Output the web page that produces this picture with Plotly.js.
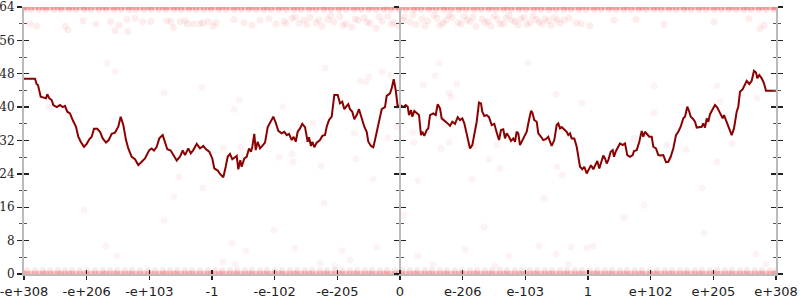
<!DOCTYPE html>
<html>
<head>
<meta charset="utf-8">
<script src="https://cdn.plot.ly/plotly-3.0.1.min.js"></script>
<style>html,body{margin:0;padding:0;background:#fff;}#chart{width:800px;height:300px;}</style>
</head>
<body>
<div id="chart"></div>
<script>
// x positions are bucket indices (0..752) across the float range; y = bits
const tickLabels = ["-e+308","-e+206","-e+103","-1","-e-102","-e-205","0","e-206","e-103","1","e+102","e+205","e+308"];
const xMax = 752;

// moving-average line
const lineX = [0,11,12.7,14,16.7,22,23.3,25.3,27.7,29.3,32.7,36,38.7,41,43.3,46,48.7,52,54.3,56.7,60,62.7,65.3,67.7,70,73.3,76,78.7,82,84.7,87.7,91,94.3,96.7,99.3,102,104.3,107.7,111,114.3,117.7,121,123.3,125.3,127.7,130,132.7,135.3,138.7,141,143.3,146.7,149.3,152.7,156,158.7,161,164.3,166.7,169.3,172.7,176,179.3,182,185.3,
188.3,190.3,193.7,196,199.3,201.7,203.7,206,208.3,211,212.7,214.3,216.3,217.7,220.3,222.7,225,227,228.3,230.3,231.7,233.7,236,238.3,241,243.7,246.3,249.3,251.7,254.3,257.7,260.3,262.7,265,267.7,269.7,271.7,273.7,276,278.3,281,283.7,285,287,288.3,290.3,292.7,296,298.3,301,302.7,305,307.7,310.3,313.7,316,318.3,320.3,322.7,324.3,326,328.3,330.3,332.7,335,337.7,340.3,342.7,344.3,347,349.3,351,353.7,356,357.7,361,362.7,366,367.7,369.7,371.7,373.7,376,
379.3,381.7,383.7,385,387,388.3,390.3,392.7,395,397,398.3,400.3,402.7,404.3,406,409.3,411.7,413.7,416,417.7,421,423.7,426,428.3,431,433.7,436,438.3,440.3,442.7,445,446,448.3,450.3,452.7,455,457,458.3,460.3,462.7,465,467.7,470.3,472.7,475,477,479.3,481,482.7,485,487,489.3,491,492.7,494.3,496,498.3,500.3,502.7,505,507,508.3,510.3,512.7,514.3,517,519.3,521.7,524.3,526,527.7,530.3,532.7,534.3,536,537.7,540.3,542.7,544.3,546,547.7,550.3,552.7,554.3,556,558.3,560.3,562.7,565,567,569.3,
571,573.3,575.3,577.7,579.3,581,582.7,584.3,586.7,588.7,590,592,594.3,596,598.7,601,603.3,606,608.7,610,612.7,615.3,617.7,619.3,621,623.3,625.3,627.7,629.3,632,634.3,636.7,639.3,642,644.3,646.7,649.3,652,654.3,656.7,659.3,661,663.3,665.3,666.7,668.7,671,672.7,675.3,677.7,679.3,681,682.7,684.3,686,688.7,691,693.3,696,698.7,700,702,703.3,705.3,707.7,710,712.7,714.3,716,718.7,721,722.7,725.3,727.7,730,732,733.3,735.3,737.7,740,742,752];
const lineY = [46.8,46.8,45.5,45.3,42.5,42.1,43.1,42.1,41.7,40.5,40.0,40.5,40.0,40.3,38.9,38.5,36.9,35.3,32.9,31.7,30.5,31.2,32.3,32.9,34.8,34.8,34.1,32.5,31.5,32.1,33.6,33.9,35.3,37.7,35.7,32.1,30.1,28.1,27.5,26.1,26.9,27.7,28.8,29.7,30.1,29.6,30.5,32.5,33.3,31.7,29.9,29.6,28.5,27.2,28.1,29.6,28.5,30.1,28.9,29.7,31.2,30.1,30.7,29.9,29.3,
27.7,25.3,24.8,24.0,23.2,25.7,28.1,28.8,27.5,28.0,28.3,25.1,27.3,25.7,27.7,28.1,30.1,29.3,30.5,33.6,29.7,31.7,30.1,30.7,31.5,35.2,36.5,37.7,36.3,34.3,33.7,34.1,33.3,33.6,32.1,32.9,31.7,34.1,34.9,36.0,35.2,31.7,32.8,30.7,31.7,30.4,31.5,32.1,33.1,33.3,35.3,36.9,37.7,42.9,42.9,40.9,41.3,39.5,40.3,40.7,39.5,38.9,37.1,38.1,39.5,37.3,35.3,34.1,31.7,30.7,30.4,32.1,35.3,37.3,39.5,40.0,42.7,43.3,44.5,46.7,44.1,40.1,40.5,
40.0,40.5,40.1,38.1,39.3,37.7,39.1,38.7,38.1,33.3,34.1,33.1,34.5,34.9,38.1,38.5,38.1,40.7,39.7,37.3,36.7,36.1,35.5,36.5,36.0,37.6,36.9,37.3,36.1,33.7,31.5,30.1,30.9,33.3,36.5,41.1,40.9,38.9,37.9,38.1,37.6,35.7,36.0,33.9,32.1,34.5,34.7,32.5,33.7,32.9,31.9,32.5,31.7,34.1,33.7,30.9,31.9,32.9,34.1,36.9,39.1,38.7,36.9,36.5,33.7,32.9,32.1,32.3,32.9,31.7,30.7,32.1,35.7,36.1,34.9,35.2,34.5,34.1,33.3,33.7,32.5,32.5,30.5,27.5,25.7,25.1,25.7,24.1,25.1,26.1,25.1,
26.1,27.1,25.3,27.3,28.4,27.7,26.5,27.3,29.3,29.7,28.1,29.5,30.5,31.3,30.9,31.3,28.5,28.1,28.5,29.5,29.7,31.7,34.3,32.9,34.1,33.5,32.9,32.9,30.5,30.1,28.5,28.4,28.5,26.8,26.9,28.1,30.1,33.3,34.1,35.3,37.3,37.7,40.1,38.9,37.7,37.3,36.5,35.1,35.3,35.3,36.1,35.1,37.3,36.5,38.3,39.6,40.5,39.9,38.5,37.3,38.1,36.9,36.4,35.1,33.3,34.9,38.9,40.1,43.7,44.3,45.3,46.3,45.5,46.3,48.7,48.3,46.9,47.7,46.9,45.7,43.9,43.9];

// dense rows of samples at the extremes
const rowXA = [0,7,15,22,30,37,45,52,60,67,75,82,90,97,105,112,120,127,135,142,150,157,165,172,180,187,195,202,210,217,225,232,240,247,255,262,270,277,285,292,300,307,315,322,330,337,345,352,360,367,375,382,390,397,405,412,420,427,435,442,450,457,465,472,480,487,495,502,510,517,525,532,540,547,555,562,570,577,585,592,600,607,615,622,630,637,645,652,660,667,675,682,690,697,705,712,720,727,735,742,750];
const rowXB = [3,11,19,26,34,41,48,56,63,71,79,86,93,101,108,116,124,131,139,146,153,161,168,176,184,191,198,206,213,221,228,236,243,251,258,266,273,281,288,296,303,311,318,326,333,341,348,356,363,371,378,386,393,401,408,416,423,431,438,446,453,461,468,476,483,491,498,506,513,521,528,536,543,551,558,566,573,581,588,596,603,611,618,626,633,641,648,656,663,671,678,686,693,701,708,716,723,731,738,746,752];
const topValA = 64, topValB = 63.3, botValA = 0, botValB = 0.9;

// band of samples near 60 bits
const bandX = [6,12.7,41,44,59,72,86.7,95,91,103,104,111,118.7,126.7,142.7,146.7,149.3,156,161,163.3,169.3,176,178.7,184.3,189.3,192,
210,220,228,236,245,252,260,268,275,280,286,292,298,304,310,316,322,328,334,340,346,352,358,364,370,374,
380,386,392,398,404,410,416,422,428,434,440,446,452,458,464,470,476,482,488,494,500,506,512,518,524,530,536,
540,552,566,590,612,640,690,725,736,740,
262,271,283,295,307,319,331,343,355,367,379,389,401,413,419,425,437,443,449,461,467,473,479,485,491,497,503,509,515,521,527,533,545,557];
const bandY = [59.9,59.4,59.4,58.5,60.7,59.9,60.5,59.7,58.3,61.0,58.1,61.3,60.5,60.5,60.7,60.5,59.1,60.5,60.7,59.9,59.9,59.9,60.2,60.5,59.4,60.2,
61.0,60.2,59.6,60.8,61.2,59.9,60.6,61.3,60.1,60.9,61.5,60.2,59.4,61.0,60.4,61.7,60.0,59.2,60.8,61.4,60.1,58.9,60.6,61.8,60.3,59.5,
61.6,60.4,59.8,61.2,60.7,62.0,59.6,60.9,61.5,60.2,61.8,60.5,59.3,61.1,60.6,61.9,60.0,61.3,60.8,59.7,61.5,60.3,61.0,59.9,60.7,61.4,60.1,
60.9,60.2,59.5,60.8,61.0,59.8,60.4,61.2,58.9,59.6,
60.0,61.6,59.8,60.9,61.9,59.6,61.1,60.4,61.7,59.9,60.8,62.1,59.5,61.3,60.1,62.0,59.9,60.9,61.6,60.2,59.4,61.2,59.9,62.0,60.5,61.1,59.8,61.8,60.4,61.2,59.6,60.9,61.3,60.0];

// scattered individual samples
const scatX = [83,91,140,178,215,210,259,289,301,345,342,336,358,367,364,373,332,330,349,297,269,255,268,199,217,216,155,179,25,
415,504,411,399,433,425,427,532,558,630,693,696,733,630,389,390,425,450,417,473,465,476,533,538,610,643,662,693,708,678,394,448,
82,93,208,222,211,199,271,318,353,326,296,311,394,409,441,471,485,515,532,547,563,569,544,732,742,
60,140,250,300,380,460,520,600,680,150,620];
const scatY = [50.6,48.5,43.4,44.7,41.7,39.5,40.1,36.2,49.4,47.3,46.1,46.3,48.5,47.7,32.6,35.3,27.6,33.8,22.8,25.9,26.9,28.0,28.8,30.2,30.4,28.1,23.2,20.6,40.1,
50.6,50.6,47.5,45.3,45.5,43.3,42.4,43.1,40.9,45.1,45.1,41.3,42.1,38.7,33.9,31.5,31.5,30.7,30.1,30.9,27.5,25.3,25.7,23.7,32.5,30.9,29.9,26.9,31.3,20.6,22.4,22.7,
6.7,4.3,7.4,5.5,2.4,2.9,6.2,5.6,6.5,3.4,2.6,1.9,4.3,2.2,5.9,1.9,4.3,6.7,4.8,6.5,6.3,6.7,2.4,4.8,2.4,
15.2,12.8,10.5,17.0,14.1,11.3,18.2,13.5,9.8,18.5,16.5];

const dotColor = 'rgb(225,25,25)';
function dots(x, y, op, size) {
  return {x: x, y: y, type: 'scatter', mode: 'markers', hoverinfo: 'skip',
    marker: {color: dotColor, size: size, opacity: op, line: {width: 0}}, showlegend: false};
}
// placeholder traces so that the overlaid axes get drawn (no visible marks)
function holder(xa, ya) {
  return {x: [null], y: [null], xaxis: xa, yaxis: ya, type: 'scatter', mode: 'markers',
    hoverinfo: 'skip', showlegend: false, marker: {opacity: 0}};
}
const traces = [
  holder('x2', 'y'), holder('x', 'y2'), holder('x', 'y3'), holder('x', 'y4'), holder('x', 'y5'), holder('x', 'y6'),
  dots(rowXA, rowXA.map(() => topValA), 0.24, 7),
  dots(rowXB, rowXB.map(() => topValA), 0.24, 7),
  dots(rowXA, rowXA.map(() => topValB), 0.10, 6),
  dots(rowXB, rowXB.map(() => botValA), 0.2, 7),
  dots(rowXA, rowXA.map(() => botValA), 0.2, 7),
  dots(rowXB, rowXB.map(() => botValB), 0.10, 6),
  dots(bandX, bandY, 0.08, 7),
  dots(scatX, scatY, 0.05, 7),
  {x: lineX, y: lineY, type: 'scatter', mode: 'lines', hoverinfo: 'skip', showlegend: false,
   line: {color: '#8b0000', width: 2}}
];

const step = xMax / (tickLabels.length - 1);
const tickVals = tickLabels.map((_, i) => i * step);
const yr = [0, 64];
const tickCol = '#222';
const lineCol = '#bbb';
function yax(extra) {
  return Object.assign({range: yr, autorange: false, showgrid: false, zeroline: false,
    tickmode: 'linear', tick0: 0, dtick: 8, ticklen: 5, tickwidth: 1.3, tickcolor: tickCol,
    showticklabels: false, showline: true, linecolor: lineCol, linewidth: 2, fixedrange: true,
    minor: {tickmode: 'linear', tick0: 0, dtick: 4, ticklen: 3, tickwidth: 1, tickcolor: '#555', ticks: extra.ticks}}, extra);
}
const layout = {
  width: 800, height: 300,
  margin: {l: 24, r: 24, t: 7, b: 26, pad: 0},
  paper_bgcolor: '#fff', plot_bgcolor: '#fff',
  showlegend: false,
  xaxis: {range: [0, xMax], autorange: false, showgrid: false, zeroline: false,
    tickmode: 'array', tickvals: tickVals, ticktext: tickLabels, ticklabeloverflow: 'allow',
    ticks: 'outside', ticklen: 4, tickwidth: 1.3, tickcolor: tickCol,
    showline: true, linecolor: lineCol, linewidth: 2,
    tickfont: {family: 'DejaVu Sans', size: 13, color: '#222'}},
  xaxis2: {overlaying: 'x', anchor: 'y', side: 'bottom', range: [0, xMax], autorange: false,
    showgrid: false, zeroline: false, tickmode: 'array', tickvals: tickVals,
    ticks: 'inside', ticklen: 4, tickwidth: 1.3, tickcolor: tickCol, showticklabels: false, showline: false},
  yaxis: yax({ticks: 'outside', side: 'left', showticklabels: true, ticklabeloverflow: 'allow',
    tickfont: {family: 'DejaVu Serif', size: 12, color: '#222'}}),
  yaxis2: yax({ticks: 'inside', side: 'left', overlaying: 'y', anchor: 'x', showline: false}),
  yaxis3: yax({ticks: 'outside', side: 'left', overlaying: 'y', anchor: 'free', position: 0.5}),
  yaxis4: yax({ticks: 'inside', side: 'left', overlaying: 'y', anchor: 'free', position: 0.5, showline: false}),
  yaxis5: yax({ticks: 'outside', side: 'right', overlaying: 'y', anchor: 'x'}),
  yaxis6: yax({ticks: 'inside', side: 'right', overlaying: 'y', anchor: 'x', showline: false})
};
Plotly.newPlot('chart', traces, layout, {staticPlot: true, displayModeBar: false});
</script>
</body>
</html>
